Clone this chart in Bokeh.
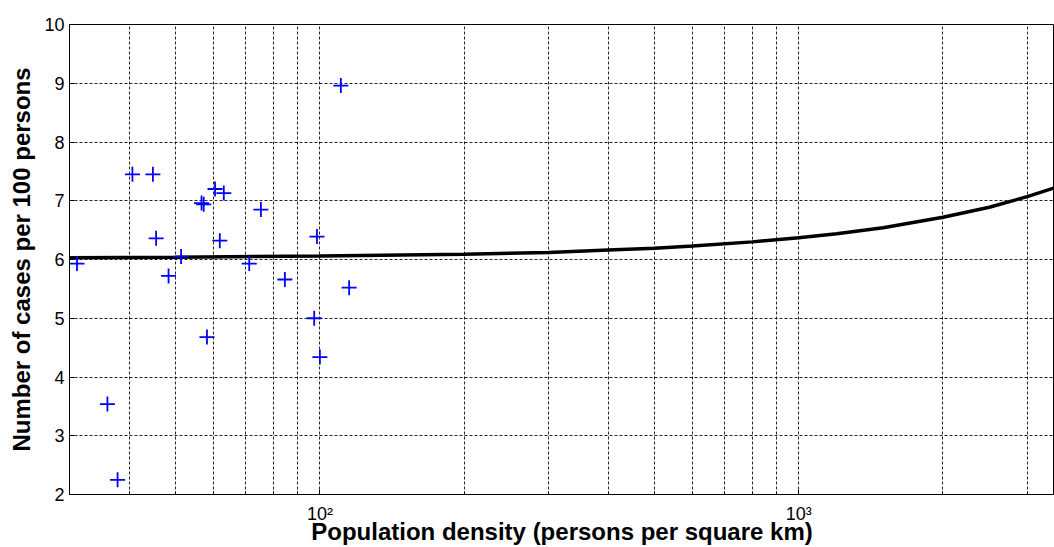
from bokeh.plotting import figure
from bokeh.models import FixedTicker, Range1d
from bokeh.embed import file_html
from bokeh.resources import INLINE

# Scatter data: population density vs. cases per 100 persons
density = [31.1, 36.0, 37.8, 40.6, 44.8, 45.5, 48.3, 51.3, 56.6, 57.2, 58.1,
           60.4, 61.8, 63.0, 71.2, 75.3, 84.5, 97.3, 98.6, 100.0, 110.6, 115.1]
cases = [5.93, 3.54, 2.25, 7.45, 7.45, 6.36, 5.72, 6.05, 6.96, 6.94, 4.68,
         7.20, 6.32, 7.13, 5.93, 6.85, 5.66, 5.00, 6.39, 4.34, 8.96, 5.52]

# Fitted curve
curve_x = [30, 50, 100, 200, 300, 400, 500, 600, 800, 1000, 1200, 1500,
           2000, 2500, 3000, 3420]
curve_y = [6.03, 6.04, 6.06, 6.09, 6.12, 6.16, 6.19, 6.23, 6.30, 6.37, 6.44,
           6.54, 6.72, 6.89, 7.07, 7.22]

x_major = [100, 1000]
x_major_labels = ["10\u00b2", "10\u00b3"]
x_minor = [40, 50, 60, 70, 80, 90, 200, 300, 400, 500, 600, 700, 800, 900,
           2000, 3000]
y_ticks = [2, 3, 4, 5, 6, 7, 8, 9, 10]

p = figure(width=1054, height=547, x_axis_type="log",
           x_range=Range1d(30, 3420), y_range=Range1d(2, 10),
           output_backend="svg", toolbar_location=None,
           min_border_left=69, min_border_top=24, min_border_right=0,
           min_border_bottom=53)
p.background_fill_color = "white"
p.border_fill_color = "white"
p.outline_line_color = "black"
p.outline_line_width = 1

p.xaxis.ticker = FixedTicker(ticks=x_major, minor_ticks=x_minor)
p.xaxis.major_label_overrides = {v: s for v, s in zip(x_major, x_major_labels)}
p.yaxis.ticker = FixedTicker(ticks=y_ticks)

for ax in (p.xaxis, p.yaxis):
    ax.axis_line_color = "black"
    ax.major_tick_in = 5
    ax.major_tick_out = 0
    ax.minor_tick_in = 3
    ax.minor_tick_out = 0
    ax.major_label_text_font = "Liberation Sans"
    ax.major_label_text_font_size = "18px"
    ax.major_label_text_color = "black"
    ax.axis_label_text_font = "Liberation Sans"
    ax.axis_label_text_font_size = "24px"
    ax.axis_label_text_font_style = "bold"
    ax.axis_label_text_color = "black"

p.yaxis.minor_tick_line_color = None
p.xaxis.axis_label = "Population density (persons per square km)"
p.yaxis.axis_label = "Number of cases per 100 persons"
p.xaxis.major_label_standoff = 9
p.xaxis.axis_label_standoff = -9
p.yaxis.major_label_standoff = 5
p.yaxis.axis_label_standoff = 6

for g in (p.xgrid, p.ygrid):
    g.grid_line_color = "black"
    g.grid_line_dash = "3 2"
    g.grid_line_width = 1
    g.grid_line_alpha = 0.85
p.xgrid.minor_grid_line_color = "black"
p.xgrid.minor_grid_line_dash = "3 2"
p.xgrid.minor_grid_line_width = 1
p.xgrid.minor_grid_line_alpha = 0.85

p.line(curve_x, curve_y, line_color="black", line_width=3.5)
p.scatter(density, cases, marker="cross", size=15, line_color="#0000ff",
          line_width=1.8)

open("out.html", "w").write(file_html(p, INLINE))
